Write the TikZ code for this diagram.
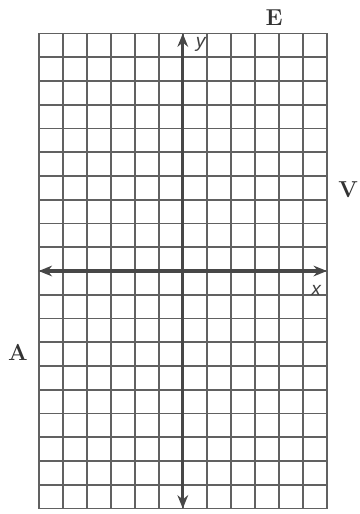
\documentclass[tikz,border=0pt]{standalone}
\usepackage{fontspec}
\newfontfamily\axisfont{Liberation Sans}
\usepackage{tikz}
\usetikzlibrary{arrows.meta}

\begin{document}
\begin{tikzpicture}[
        x=18pt, y=17.8pt,
        gridline/.style = {draw=black!62, line width=1.3pt},
        axisline/.style = {draw=black!72, line width=2.4pt, {Stealth[length=10pt,width=8pt]}-{Stealth[length=10pt,width=8pt]}},
        corner/.style   = {font=\bfseries\LARGE, text=black!80},
        axislabel/.style = {font=\axisfont\itshape\Large, text=black!75, inner sep=0pt}
    ]
        \useasboundingbox (-7.61,-10.23) rectangle (7.35,11.41);
%
        \foreach \i in {-6,...,6} {\draw[gridline] (\i,-10) -- (\i,10);}
        \foreach \j in {-10,...,10} {\draw[gridline] (-6,\j) -- (6,\j);}
%
        \coordinate (xl) at (-6,0);
        \coordinate (xr) at (6,0);
        \coordinate (yb) at (0,-10);
        \coordinate (yt) at (0,10);
        \draw[axisline] (xl) -- (xr);
        \draw[axisline] (yb) -- (yt);
%
        \node (ylab) [axislabel] at (0.75,9.55)  {y};
        \node (xlab) [axislabel] at (5.55,-0.8)  {x};
%
        \node (E) [corner] at (3.80,10.65)  {E};
        \node (V) [corner] at (6.89,3.41)   {V};
        \node (A) [corner] at (-6.86,-3.41) {A};
    \end{tikzpicture}
\end{document}
